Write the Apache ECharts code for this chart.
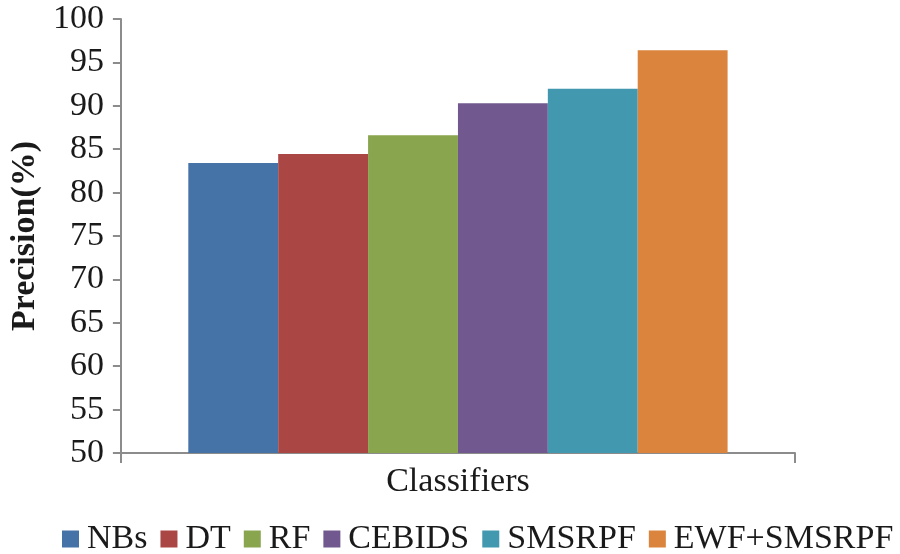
<!DOCTYPE html>
<html>
<head>
<meta charset="utf-8">
<script src="https://cdn.jsdelivr.net/npm/echarts@6/dist/echarts.min.js"></script>
<style>html,body{margin:0;padding:0;background:#fff}#c{width:900px;height:554px}</style>
</head>
<body>
<div id="c"></div>
<script>
var categories = ['Classifiers'];
var seriesNames = ['NBs', 'DT', 'RF', 'CEBIDS', 'SMSRPF', 'EWF+SMSRPF'];
var precisionValues = [83.4, 84.45, 86.6, 90.3, 91.95, 96.4];
var seriesColors = ['#4572A7', '#AA4643', '#89A54E', '#71588F', '#4198AF', '#DB843D'];
var yTicks = { min: 50, max: 100, interval: 5 };

var font = '"Liberation Serif", "Times New Roman", serif';
var chart = echarts.init(document.getElementById('c'), null, { renderer: 'canvas' });
var series = seriesNames.map(function (n, i) {
  return {
    name: n,
    type: 'bar',
    data: [precisionValues[i]],
    barGap: '0%',
    barCategoryGap: '20%',
    itemStyle: { color: seriesColors[i] }
  };
});
chart.setOption({
  animation: false,
  color: seriesColors,
  grid: { left: 117, right: 105, top: 19, bottom: 101 },
  legend: {
    data: seriesNames,
    left: 57,
    top: 517,
    icon: 'rect',
    itemWidth: 17,
    itemHeight: 17,
    itemGap: 13,
    textStyle: { fontFamily: font, fontSize: 34, color: '#1a1a1a', padding: [0, 0, 0, 3] }
  },
  xAxis: {
    type: 'category',
    data: categories,
    axisLine: { lineStyle: { color: '#8c8c8c', width: 2 } },
    axisTick: { show: true, length: 10, lineStyle: { color: '#8c8c8c', width: 2 } },
    axisLabel: { fontFamily: font, fontSize: 34, color: '#1a1a1a', margin: 12 }
  },
  yAxis: {
    type: 'value',
    min: yTicks.min,
    max: yTicks.max,
    interval: yTicks.interval,
    name: 'Precision(%)',
    nameLocation: 'middle',
    nameGap: 78,
    nameTextStyle: { fontFamily: font, fontSize: 34, fontWeight: 'bold', color: '#1a1a1a' },
    splitLine: { show: false },
    axisLine: { show: true, lineStyle: { color: '#8c8c8c', width: 2 } },
    axisTick: { show: true, length: 8, lineStyle: { color: '#8c8c8c', width: 2 } },
    axisLabel: { fontFamily: font, fontSize: 34, color: '#1a1a1a', margin: 17 }
  },
  series: series
});
</script>
</body>
</html>
